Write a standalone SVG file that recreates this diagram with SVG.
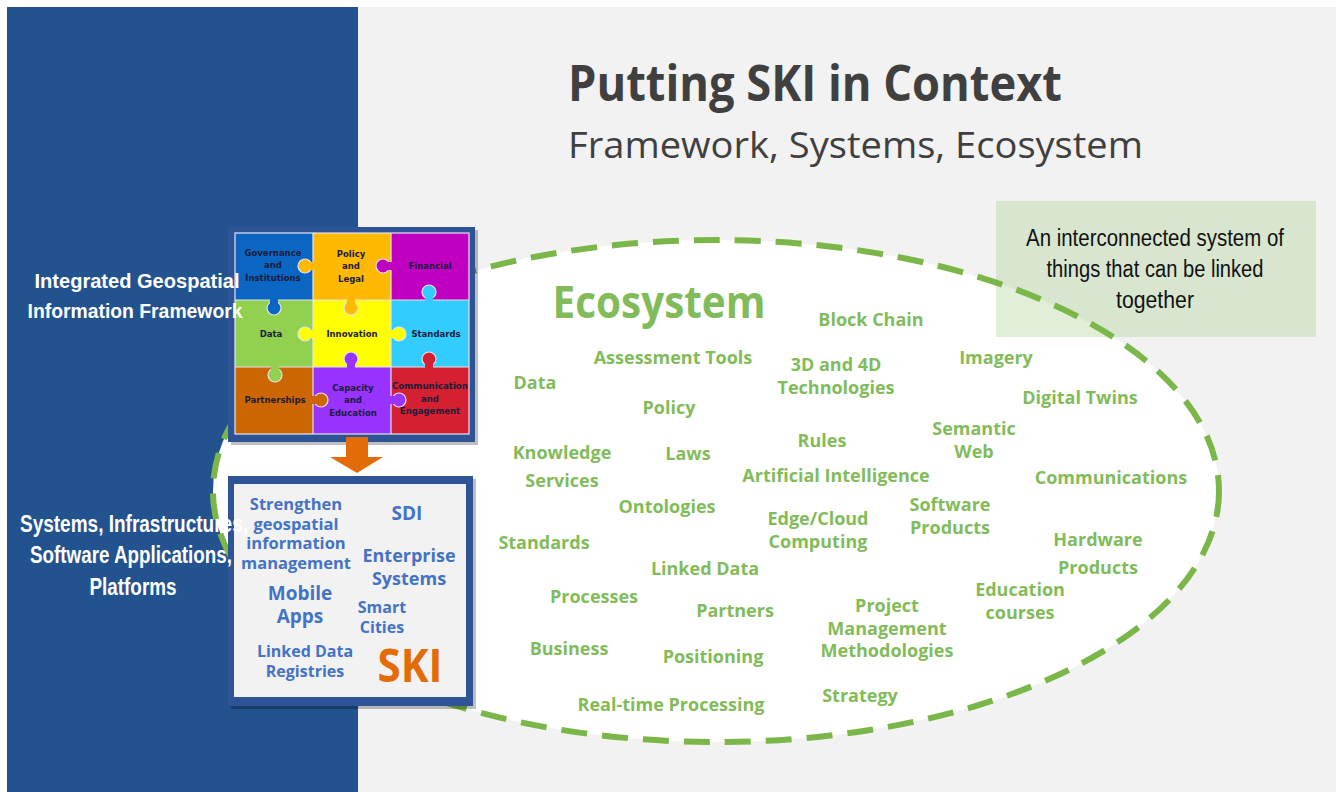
<svg xmlns="http://www.w3.org/2000/svg" width="1337" height="792" viewBox="0 0 1337 792">
<defs>
<style>
.eco{font-family:"Open Sans","Liberation Sans",sans-serif;font-weight:bold;font-size:18px;fill:#82bc5a;text-anchor:middle}
.ski{font-family:"Open Sans","Liberation Sans",sans-serif;font-weight:bold;fill:#4472c4;text-anchor:middle}
.pz{font-family:"DejaVu Sans","Liberation Sans",sans-serif;font-size:8.5px;font-weight:bold;fill:#1b1b3b;text-anchor:middle}
.lt{font-family:"Liberation Sans",Arial,sans-serif;font-weight:bold;fill:#ffffff;text-anchor:middle}
.kn{stroke:#e4e4f2;stroke-width:1.2}
</style>
</defs>
<rect x="0" y="0" width="1337" height="792" fill="#ffffff"/>
<rect x="358" y="7" width="978" height="785" fill="#f2f2f2"/>
<rect x="7" y="7" width="351" height="785" fill="#23538f"/>

<g id="ecosystem-ellipse">
<ellipse cx="716" cy="491" rx="503" ry="251" fill="#ffffff"/>
</g>

<g id="definition-box">
<rect x="996" y="201" width="320" height="136" fill="#a9d18e" fill-opacity="0.35"/>
</g>

<g id="ellipse-outline">
<ellipse cx="716" cy="491" rx="503" ry="251" fill="none" stroke="#7ab648" stroke-width="6" stroke-dasharray="26 15"/>
</g>

<g id="definition-text" font-family="'Liberation Sans',Arial,sans-serif" font-size="23" fill="#111111" text-anchor="middle">
<text x="1155" y="246" textLength="258" lengthAdjust="spacingAndGlyphs">An interconnected system of</text>
<text x="1155" y="277" textLength="217" lengthAdjust="spacingAndGlyphs">things that can be linked</text>
<text x="1155" y="308" textLength="78" lengthAdjust="spacingAndGlyphs">together</text>
</g>

<g id="title">
<text x="568" y="101" font-family="'Open Sans','Liberation Sans',sans-serif" font-weight="bold" font-size="50" fill="#404040" textLength="494" lengthAdjust="spacingAndGlyphs">Putting SKI in Context</text>
<text x="568" y="158" font-family="'Open Sans','Liberation Sans',sans-serif" font-size="36" fill="#404040" textLength="575" lengthAdjust="spacingAndGlyphs">Framework, Systems, Ecosystem</text>
</g>

<g id="puzzle">
<rect x="231" y="230" width="247" height="215" fill="#000000" opacity="0.25"/>
<rect x="228" y="227" width="247" height="215" fill="#2f5496"/>
<rect x="235" y="233" width="78" height="67" fill="#0b66c3"/>
<rect x="313" y="233" width="78" height="67" fill="#ffb900"/>
<rect x="391" y="233" width="78" height="67" fill="#c000c0"/>
<rect x="235" y="300" width="78" height="67" fill="#92d050"/>
<rect x="313" y="300" width="78" height="67" fill="#ffff00"/>
<rect x="391" y="300" width="78" height="67" fill="#33ccff"/>
<rect x="235" y="367" width="78" height="67" fill="#cc6600"/>
<rect x="313" y="367" width="78" height="67" fill="#9933ff"/>
<rect x="391" y="367" width="78" height="67" fill="#d42030"/>
<g stroke="#e4e4f2" stroke-width="1.2" fill="none">
<rect x="235" y="233" width="234" height="201"/>
<line x1="313" y1="233" x2="313" y2="434"/>
<line x1="391" y1="233" x2="391" y2="434"/>
<line x1="235" y1="300" x2="469" y2="300"/>
<line x1="235" y1="367" x2="469" y2="367"/>
</g>
<circle class="kn" cx="305" cy="266" r="7" fill="#ffb900"/><rect x="305" y="262" width="9" height="8" fill="#ffb900"/>
<circle class="kn" cx="383" cy="266" r="7" fill="#c000c0"/><rect x="383" y="262" width="9" height="8" fill="#c000c0"/>
<circle class="kn" cx="274" cy="308" r="7" fill="#0b66c3"/><rect x="270" y="299" width="8" height="9" fill="#0b66c3"/>
<circle class="kn" cx="351" cy="308" r="7" fill="#ffb900"/><rect x="347" y="299" width="8" height="9" fill="#ffb900"/>
<circle class="kn" cx="429" cy="292" r="7" fill="#33ccff"/><rect x="425" y="292" width="8" height="9" fill="#33ccff"/>
<circle class="kn" cx="305" cy="334" r="7" fill="#ffff00"/><rect x="305" y="330" width="9" height="8" fill="#ffff00"/>
<circle class="kn" cx="399" cy="334" r="7" fill="#ffff00"/><rect x="390" y="330" width="9" height="8" fill="#ffff00"/>
<circle class="kn" cx="275" cy="375" r="7" fill="#92d050"/><rect x="271" y="366" width="8" height="9" fill="#92d050"/>
<circle class="kn" cx="351" cy="359" r="7" fill="#9933ff"/><rect x="347" y="359" width="8" height="9" fill="#9933ff"/>
<circle class="kn" cx="429" cy="359" r="7" fill="#d42030"/><rect x="425" y="359" width="8" height="9" fill="#d42030"/>
<circle class="kn" cx="321" cy="400" r="7" fill="#cc6600"/><rect x="312" y="396" width="9" height="8" fill="#cc6600"/>
<circle class="kn" cx="399" cy="400" r="7" fill="#9933ff"/><rect x="390" y="396" width="9" height="8" fill="#9933ff"/>
<text class="pz" x="273" y="256">Governance</text>
<text class="pz" x="273" y="268">and</text>
<text class="pz" x="273" y="281">Institutions</text>
<text class="pz" x="351" y="257">Policy</text>
<text class="pz" x="351" y="269">and</text>
<text class="pz" x="351" y="282">Legal</text>
<text class="pz" x="430" y="269">Financial</text>
<text class="pz" x="271" y="337">Data</text>
<text class="pz" x="352" y="337">Innovation</text>
<text class="pz" x="436" y="337">Standards</text>
<text class="pz" x="275" y="403">Partnerships</text>
<text class="pz" x="353" y="391">Capacity</text>
<text class="pz" x="353" y="403">and</text>
<text class="pz" x="353" y="416">Education</text>
<text class="pz" x="430" y="389" textLength="76" lengthAdjust="spacingAndGlyphs">Communication</text>
<text class="pz" x="430" y="402">and</text>
<text class="pz" x="430" y="414">Engagement</text>
</g>

<g id="connectors">
<path d="M346,437 H368 V457 H383 L357,473 L330,457 H346 Z" fill="#e36c09"/>
</g>

<g id="ski-box">
<rect x="231" y="479" width="245" height="230" fill="#000000" opacity="0.25"/>
<rect x="228" y="476" width="245" height="230" fill="#2f5496"/>
<rect x="234" y="484" width="232" height="213" fill="#f2f2f2"/>
<text class="ski" font-size="16.5" x="296" y="510">Strengthen</text>
<text class="ski" font-size="16.5" x="296" y="530">geospatial</text>
<text class="ski" font-size="16.5" x="296" y="549">information</text>
<text class="ski" font-size="16.5" x="296" y="569">management</text>
<text class="ski" font-size="19" x="407" y="520">SDI</text>
<text class="ski" font-size="18" x="409" y="562">Enterprise</text>
<text class="ski" font-size="18" x="409" y="585">Systems</text>
<text class="ski" font-size="19" x="300" y="600">Mobile</text>
<text class="ski" font-size="19" x="300" y="623">Apps</text>
<text class="ski" font-size="16" x="382" y="613">Smart</text>
<text class="ski" font-size="16" x="382" y="633">Cities</text>
<text class="ski" font-size="16" x="305" y="657">Linked Data</text>
<text class="ski" font-size="16" x="305" y="677">Registries</text>
<text x="410" y="682" font-family="'Open Sans','Liberation Sans',sans-serif" font-weight="bold" font-size="47" fill="#e36c09" text-anchor="middle" textLength="65" lengthAdjust="spacingAndGlyphs">SKI</text>
</g>

<g id="left-labels">
<text class="lt" font-size="21" x="137" y="288" textLength="205" lengthAdjust="spacingAndGlyphs">Integrated  Geospatial</text>
<text class="lt" font-size="21" x="135" y="318" textLength="215" lengthAdjust="spacingAndGlyphs">Information  Framework</text>
<text class="lt" font-size="23" x="134" y="532" textLength="228" lengthAdjust="spacingAndGlyphs">Systems, Infrastructures,</text>
<text class="lt" font-size="23" x="131" y="563" textLength="202" lengthAdjust="spacingAndGlyphs">Software Applications,</text>
<text class="lt" font-size="23" x="133" y="595" textLength="87" lengthAdjust="spacingAndGlyphs">Platforms</text>
</g>

<g id="ecosystem-words">
<text x="659" y="318" font-family="'Open Sans','Liberation Sans',sans-serif" font-weight="bold" font-size="44" fill="#82bc5a" text-anchor="middle" textLength="213" lengthAdjust="spacingAndGlyphs">Ecosystem</text>
<text class="eco" x="871" y="326">Block Chain</text>
<text class="eco" x="673" y="364">Assessment Tools</text>
<text class="eco" x="836" y="371">3D and 4D</text>
<text class="eco" x="836" y="394">Technologies</text>
<text class="eco" x="996" y="364">Imagery</text>
<text class="eco" x="535" y="389">Data</text>
<text class="eco" x="669" y="414">Policy</text>
<text class="eco" x="1080" y="404">Digital Twins</text>
<text class="eco" x="974" y="435">Semantic</text>
<text class="eco" x="974" y="458">Web</text>
<text class="eco" x="562" y="459">Knowledge</text>
<text class="eco" x="562" y="487">Services</text>
<text class="eco" x="688" y="460">Laws</text>
<text class="eco" x="822" y="447">Rules</text>
<text class="eco" x="836" y="482">Artificial Intelligence</text>
<text class="eco" x="1111" y="484">Communications</text>
<text class="eco" x="667" y="513">Ontologies</text>
<text class="eco" x="818" y="525">Edge/Cloud</text>
<text class="eco" x="818" y="548">Computing</text>
<text class="eco" x="950" y="511">Software</text>
<text class="eco" x="950" y="534">Products</text>
<text class="eco" x="544" y="549">Standards</text>
<text class="eco" x="1098" y="546">Hardware</text>
<text class="eco" x="1098" y="574">Products</text>
<text class="eco" x="705" y="575">Linked Data</text>
<text class="eco" x="1020" y="596">Education</text>
<text class="eco" x="1020" y="619">courses</text>
<text class="eco" x="594" y="603">Processes</text>
<text class="eco" x="735" y="617">Partners</text>
<text class="eco" x="887" y="612">Project</text>
<text class="eco" x="887" y="635">Management</text>
<text class="eco" x="887" y="657">Methodologies</text>
<text class="eco" x="569" y="655">Business</text>
<text class="eco" x="713" y="663">Positioning</text>
<text class="eco" x="860" y="702">Strategy</text>
<text class="eco" x="671" y="711">Real-time Processing</text>
</g>
</svg>
